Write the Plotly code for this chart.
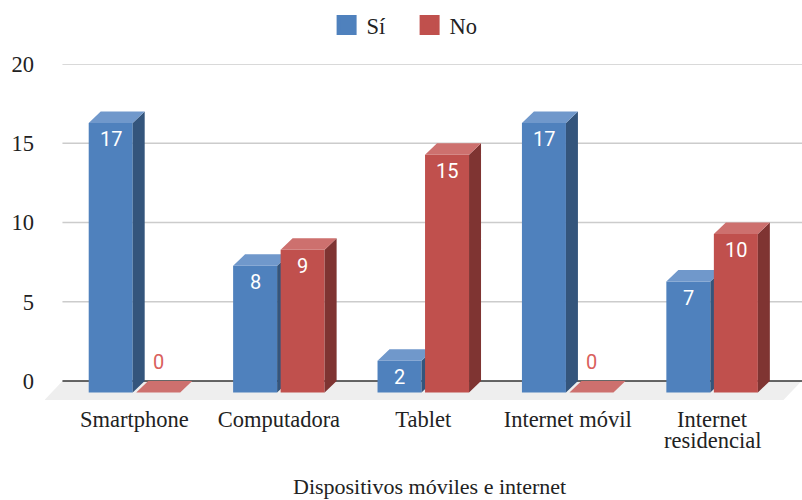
import plotly.graph_objects as go

categories = ["Smartphone", "Computadora", "Tablet", "Internet móvil", "Internet"]
category_second_lines = ["", "", "", "", "residencial"]
si_values = [17, 8, 2, 17, 7]
no_values = [0, 9, 15, 0, 10]
y_ticks = [0, 5, 10, 15, 20]
series_names = ["Sí", "No"]
axis_title = "Dispositivos móviles e internet"

SERIF = "Liberation Serif"
FS = 22.5
TEXT = "#222222"
BLUE = dict(front="#4F81BD", top="#7098CB", side="#34557C")
RED = dict(front="#C0504D", top="#CD706E", side="#7F3432")

# layout constants, in axis units
X_RANGE = [-0.6195, 4.6225]
Y_RANGE = [-1.199, 20]
BAR_W = 0.3047
OFFSET = 0.1645
DX = 0.083      # horizontal depth of the 3D bars
DY = 0.726      # vertical depth of the 3D bars
GRID_LEFT = -0.4986
FLOOR_Y = -1.199

xs = list(range(len(categories)))


def faces(positions, values):
    top_x, top_y, side_x, side_y = [], [], [], []
    for p, v in zip(positions, values):
        l, r = p - BAR_W / 2, p + BAR_W / 2
        t = v - DY
        top_x += [l, r, r + DX, l + DX, l, None]
        top_y += [t, t, v, v, t, None]
        side_x += [r, r + DX, r + DX, r, r, None]
        side_y += [-DY, 0, v, t, -DY, None]
    return top_x, top_y, side_x, side_y


def add_series(fig, positions, values, colors, xa, ya):
    fig.add_trace(go.Bar(x=positions, y=values, base=-DY, width=BAR_W,
                         marker=dict(color=colors["front"], line=dict(width=0)),
                         showlegend=False, xaxis=xa, yaxis=ya))
    top_x, top_y, side_x, side_y = faces(positions, values)
    for px, py, c in ((side_x, side_y, colors["side"]), (top_x, top_y, colors["top"])):
        fig.add_trace(go.Scatter(x=px, y=py, mode="lines", fill="toself", fillcolor=c,
                                 line=dict(width=0), hoverinfo="skip", showlegend=False,
                                 xaxis=xa, yaxis=ya))


fig = go.Figure()

# floor and grid lines sit below every trace
fl, fr = GRID_LEFT, GRID_LEFT + 5.118
shapes = [dict(type="path", xref="x", yref="y", layer="below", line=dict(width=0),
               fillcolor="#EEEEEE",
               path=f"M{fl},0 L{fr},0 L{fr - 0.125},{FLOOR_Y} L{fl - 0.125},{FLOOR_Y} Z")]
for t in y_ticks:
    shapes.append(dict(type="line", xref="x", yref="y", layer="below",
                       x0=GRID_LEFT, x1=X_RANGE[1], y0=t, y1=t,
                       line=dict(color="#333333" if t == 0 else "#CCCCCC", width=1.5)))

si_x = [x - OFFSET for x in xs]
no_x = [x + OFFSET for x in xs]
add_series(fig, si_x, si_values, BLUE, "x", "y")
add_series(fig, no_x, no_values, RED, "x2", "y2")

# legend entries
for name, c in zip(series_names, (BLUE["front"], RED["front"])):
    fig.add_trace(go.Scatter(x=[None], y=[None], mode="markers", name=name,
                             marker=dict(symbol="square", size=16, color=c,
                                         line=dict(color=c, width=4))))

# data labels
annotations = []
for positions, values in ((si_x, si_values), (no_x, no_values)):
    for p, v in zip(positions, values):
        inside = v > 0
        annotations.append(dict(
            x=p, y=v - DY, xref="x", yref="y", text=str(v), showarrow=False,
            yshift=-16 if inside else 31,
            font=dict(family="Roboto", size=20, color="#FFFFFF" if inside else "#D9605C")))

# second line of a category label, set tighter than plotly's own line height
for x, line in zip(xs, category_second_lines):
    if line:
        annotations.append(dict(x=x, y=0, xref="x", yref="paper", text=line, showarrow=False,
                                yanchor="middle", yshift=-40,
                                font=dict(family=SERIF, size=FS, color=TEXT)))

# axis title, centred on the chart's back plane rather than the full plot area
annotations.append(dict(x=(GRID_LEFT + X_RANGE[1]) / 2, y=0, xref="x", yref="paper",
                        text=axis_title, showarrow=False, yanchor="middle", yshift=-86, xshift=-3,
                        font=dict(family=SERIF, size=22, color=TEXT)))

fig.update_layout(
    width=802, height=500,
    margin=dict(l=45, r=0, t=64, b=100),
    paper_bgcolor="#FFFFFF", plot_bgcolor="#FFFFFF",
    font=dict(family=SERIF, size=FS, color=TEXT),
    barmode="overlay",
    shapes=shapes,
    annotations=annotations,
    legend=dict(orientation="h", x=0.372, xanchor="left", y=1.115, yanchor="middle",
                entrywidth=38, entrywidthmode="pixels",
                font=dict(family=SERIF, size=FS, color=TEXT), bgcolor="rgba(0,0,0,0)"),
    xaxis=dict(range=X_RANGE, tickmode="array", tickvals=xs, ticktext=categories,
               showgrid=False, zeroline=False, showline=False, ticks="", ticklabelstandoff=3),
    yaxis=dict(range=Y_RANGE, tickmode="array", tickvals=y_ticks,
               showgrid=False, zeroline=False, showline=False, ticks="", ticklabelstandoff=10),
    xaxis2=dict(range=X_RANGE, overlaying="x", visible=False),
    yaxis2=dict(range=Y_RANGE, overlaying="y", visible=False),
)

fig.write_html("out.html", post_script="document.body.style.margin='0';",
               config=dict(displayModeBar=False))
